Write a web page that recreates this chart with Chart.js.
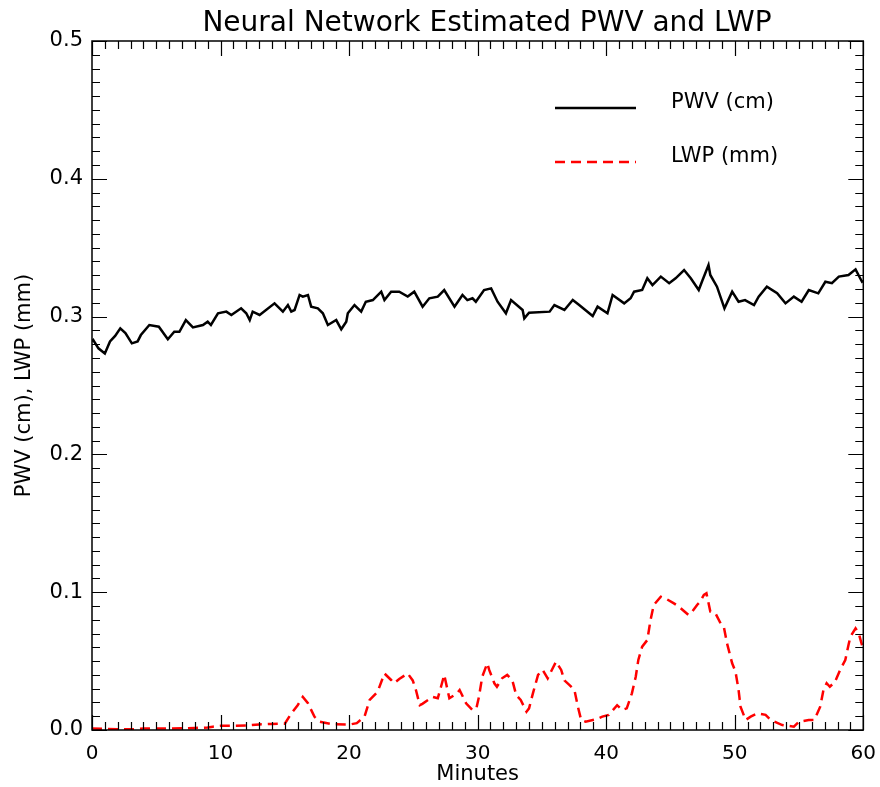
<!DOCTYPE html>
<html lang="en">
<head>
<meta charset="UTF-8">
<title>Neural Network Estimated PWV and LWP</title>
<style>
  html, body { margin: 0; padding: 0; background: #fff; }
  .chart-container { position: relative; width: 880px; height: 787px; }
</style>
</head>
<body>
<div class="chart-container">
  <canvas id="pwvChart"></canvas>
</div>
<script src="https://cdn.jsdelivr.net/npm/chart.js"></script>
<script>
// PWV (cm)
const pwvMinutes = [0, 0.1, 0.5, 1.0, 1.4, 1.8, 2.2, 2.6, 3.1, 3.55, 3.8, 4.46, 5.2, 5.9, 6.4, 6.8, 7.3, 7.85, 8.63, 9.0,
  9.25, 9.8, 10.45, 10.84, 11.6, 12.0, 12.27, 12.5, 13.04, 14.2, 14.85, 15.24, 15.5, 15.76, 16.15, 16.4, 16.8, 17.05, 17.57, 17.96,
  18.35, 19.0, 19.39, 19.78, 19.9, 20.42, 20.94, 21.3, 21.85, 22.5, 22.75, 23.27, 23.9, 24.56, 25.07, 25.72, 26.24, 26.9, 27.4, 28.2,
  28.82, 29.2, 29.6, 29.86, 30.5, 31.05, 31.55, 32.2, 32.6, 33.5, 33.63, 34.0, 35.6, 35.97, 36.75, 37.4, 37.9, 38.95, 39.33, 40.1,
  40.5, 41.4, 41.9, 42.17, 42.8, 43.2, 43.6, 44.25, 44.9, 45.4, 46.06, 46.58, 47.2, 47.5, 47.96, 48.1, 48.62, 49.2, 49.8, 50.3,
  50.8, 51.5, 51.86, 52.5, 53.3, 53.95, 54.6, 55.2, 55.76, 56.5, 57.05, 57.56, 58.1, 58.85, 59.4, 59.9, 60];
const pwvValues = [0.282, 0.283, 0.277, 0.2733, 0.282, 0.286, 0.2915, 0.288, 0.2806, 0.282, 0.2866, 0.2939, 0.2927, 0.2835, 0.289, 0.289, 0.2975, 0.2922, 0.2939, 0.2963,
  0.2939, 0.3024, 0.3036, 0.3012, 0.306, 0.3024, 0.2975, 0.3036, 0.3012, 0.3096, 0.3036, 0.3084, 0.3036, 0.3048, 0.3157, 0.3145, 0.3157, 0.3072, 0.306, 0.3024,
  0.2939, 0.2975, 0.2908, 0.2963, 0.3024, 0.3084, 0.3036, 0.3108, 0.312, 0.3181, 0.312, 0.3181, 0.3181, 0.3145, 0.3181, 0.3072, 0.3133, 0.3145, 0.3193, 0.3072,
  0.3157, 0.312, 0.3133, 0.3108, 0.3193, 0.3205, 0.3108, 0.3024, 0.312, 0.3048, 0.2987, 0.3028, 0.3036, 0.3084, 0.3048, 0.312, 0.3084, 0.3004, 0.3072, 0.3024,
  0.3157, 0.3096, 0.3133, 0.3181, 0.3193, 0.3278, 0.3229, 0.329, 0.3242, 0.3278, 0.3338, 0.3278, 0.3193, 0.3266, 0.3374, 0.3302, 0.3217, 0.306, 0.3181, 0.3108,
  0.312, 0.3084, 0.3145, 0.3217, 0.3169, 0.3096, 0.3145, 0.3108, 0.3193, 0.3169, 0.3253, 0.3242, 0.329, 0.3302, 0.3343, 0.3253, 0.326];

// LWP (mm)
const lwpMinutes = [0, 1, 2, 3, 4, 5, 6, 7, 8, 9, 9.4, 10, 11, 12, 13, 14, 15, 15.5, 16.0, 16.4,
  16.8, 17.3, 17.7, 18.75, 20.05, 20.6, 21.2, 21.6, 22.22, 22.75, 23.27, 23.5, 23.9, 24.56, 24.95, 25.2, 25.5, 25.7, 26.5, 26.9,
  27.15, 27.4, 27.8, 28.4, 28.6, 29.1, 29.6, 29.9, 30.1, 30.36, 30.75, 30.9, 31.3, 31.5, 31.9, 32.3, 32.7, 33.0, 33.35, 33.8,
  34.0, 34.3, 34.7, 35.06, 35.45, 35.84, 36.1, 36.5, 36.75, 37.15, 37.53, 37.8, 38.05, 38.4, 39.2, 39.7, 40.2, 40.85, 41.24, 41.6,
  42.0, 42.3, 42.5, 42.8, 43.2, 43.45, 43.7, 44.25, 44.6, 45.27, 45.66, 46.4, 46.7, 47.07, 47.3, 47.6, 47.8, 48.1, 48.5, 48.9,
  49.15, 49.4, 49.8, 50.06, 50.3, 50.45, 50.85, 51.24, 51.76, 52.4, 52.8, 53.7, 54.6, 55.0, 55.76, 56.2, 56.65, 56.9, 57.15, 57.4,
  57.8, 58.2, 58.6, 58.85, 59.0, 59.4, 59.65, 59.9, 60];
const lwpValues = [0.001, 0.0008, 0.0005, 0.0005, 0.001, 0.001, 0.001, 0.0012, 0.0015, 0.0018, 0.0024, 0.003, 0.003, 0.0032, 0.004, 0.0044, 0.0046, 0.012, 0.018, 0.024,
  0.0194, 0.0097, 0.006, 0.0041, 0.004, 0.005, 0.0097, 0.0218, 0.0278, 0.041, 0.0363, 0.034, 0.037, 0.041, 0.036, 0.029, 0.018, 0.019, 0.024, 0.023,
  0.0314, 0.040, 0.023, 0.0266, 0.029, 0.0194, 0.0145, 0.0157, 0.024, 0.0387, 0.0484, 0.0436, 0.0339, 0.0314, 0.0375, 0.040, 0.036, 0.0254, 0.0218, 0.0133,
  0.0157, 0.0266, 0.040, 0.0436, 0.0375, 0.0448, 0.0496, 0.0436, 0.036, 0.0326, 0.029, 0.0169, 0.0073, 0.006, 0.0077, 0.0097, 0.011, 0.018, 0.0145, 0.0157,
  0.0266, 0.0387, 0.0508, 0.0605, 0.0653, 0.0798, 0.0907, 0.0967, 0.0955, 0.0919, 0.0895, 0.0835, 0.086, 0.0907, 0.093, 0.098, 0.0992, 0.086, 0.0847, 0.0774,
  0.075, 0.0629, 0.0484, 0.0423, 0.029, 0.0169, 0.0073, 0.0097, 0.012, 0.011, 0.0073, 0.0036, 0.0024, 0.006, 0.0073, 0.0073, 0.0169, 0.029, 0.034, 0.0314,
  0.035, 0.0436, 0.0508, 0.0617, 0.0677, 0.0738, 0.070, 0.0617, 0.06];

// axis ticks
const xMajorTicks = [0, 10, 20, 30, 40, 50, 60];
const yMajorTicks = [0.0, 0.1, 0.2, 0.3, 0.4, 0.5];
const xMinorStep = 1;
const yMinorStep = 0.01;
const chartTitle = 'Neural Network Estimated PWV and LWP';

const FONT = '"DejaVu Sans", sans-serif';

// box with inward ticks on all four sides, title and legend
const idlBox = {
  id: 'idlBox',
  afterDraw(chart) {
    const { ctx, chartArea: a, scales } = chart;
    const xs = scales.x, ys = scales.y;
    ctx.save();
    ctx.strokeStyle = '#000';
    ctx.lineWidth = 1.5;
    ctx.strokeRect(a.left, a.top, a.right - a.left, a.bottom - a.top);
    ctx.lineWidth = 1.2;
    ctx.beginPath();
    for (let i = 0; i <= 60; i += xMinorStep) {
      const px = Math.round(xs.getPixelForValue(i)) + 0.5;
      const len = xMajorTicks.includes(i) ? 15 : 8;
      ctx.moveTo(px, a.bottom); ctx.lineTo(px, a.bottom - len);
      ctx.moveTo(px, a.top); ctx.lineTo(px, a.top + len);
    }
    for (let k = 0; k <= 50; k++) {
      const v = k * yMinorStep;
      const py = Math.round(ys.getPixelForValue(v)) + 0.5;
      const len = k % 10 === 0 ? 15 : 8;
      ctx.moveTo(a.left, py); ctx.lineTo(a.left + len, py);
      ctx.moveTo(a.right, py); ctx.lineTo(a.right - len, py);
    }
    ctx.stroke();

    // title (sits a little right of the plot centre, as in the original)
    ctx.fillStyle = '#000';
    ctx.font = '28px ' + FONT;
    ctx.textAlign = 'center';
    ctx.textBaseline = 'alphabetic';
    ctx.fillText(chartTitle, 487, 31);

    // legend
    ctx.textAlign = 'left';
    const rows = [108, 162];
    chart.data.datasets.forEach((ds, i) => {
      ctx.strokeStyle = ds.borderColor;
      ctx.lineWidth = ds.borderWidth;
      ctx.setLineDash(ds.borderDash || []);
      ctx.beginPath();
      ctx.moveTo(555, rows[i]);
      ctx.lineTo(636, rows[i]);
      ctx.stroke();
      ctx.setLineDash([]);
      ctx.fillStyle = '#000';
      ctx.font = '21px ' + FONT;
      ctx.textBaseline = 'middle';
      ctx.fillText(ds.label, 671, rows[i] - 5);
    });
    ctx.restore();
  }
};

const config = {
  type: 'line',
  data: {
    datasets: [
      {
        label: 'PWV (cm)',
        data: pwvMinutes.map((m, i) => ({ x: m, y: pwvValues[i] })),
        borderColor: '#000000',
        borderWidth: 2.5,
        pointRadius: 0,
        tension: 0
      },
      {
        label: 'LWP (mm)',
        data: lwpMinutes.map((m, i) => ({ x: m, y: lwpValues[i] })),
        borderColor: '#ff0000',
        borderWidth: 2.5,
        borderDash: [10, 6],
        pointRadius: 0,
        tension: 0
      }
    ]
  },
  options: {
    responsive: false,
    animation: false,
    layout: { padding: { left: 0, right: 1, top: 41, bottom: 0 } },
    plugins: {
      legend: { display: false },
      tooltip: { enabled: false },
      title: { display: false }
    },
    scales: {
      x: {
        type: 'linear',
        min: 0,
        max: 60,
        afterFit: s => { s.height = 57; },
        afterBuildTicks: s => { s.ticks = xMajorTicks.map(v => ({ value: v })); },
        grid: { display: false },
        border: { display: false },
        ticks: {
          color: '#000',
          padding: 4,
          maxRotation: 0,
          font: { family: FONT, size: 20 },
          callback: v => String(v)
        },
        title: {
          display: true,
          text: 'Minutes',
          color: '#000',
          padding: 0,
          font: { family: FONT, size: 21 }
        }
      },
      y: {
        type: 'linear',
        min: 0,
        max: 0.5,
        afterFit: s => { s.width = 92; },
        afterBuildTicks: s => { s.ticks = yMajorTicks.map(v => ({ value: v })); },
        grid: { display: false },
        border: { display: false },
        ticks: {
          color: '#000',
          padding: 1,
          font: { family: FONT, size: 21 },
          callback: v => Number(v).toFixed(1)
        },
        title: {
          display: true,
          text: 'PWV (cm), LWP (mm)',
          color: '#000',
          padding: { top: 12, bottom: 0 },
          font: { family: FONT, size: 21 }
        }
      }
    }
  },
  plugins: [idlBox]
};

const canvas = document.getElementById('pwvChart');
canvas.width = 880;
canvas.height = 787;
new Chart(canvas, config);
</script>
</body>
</html>
